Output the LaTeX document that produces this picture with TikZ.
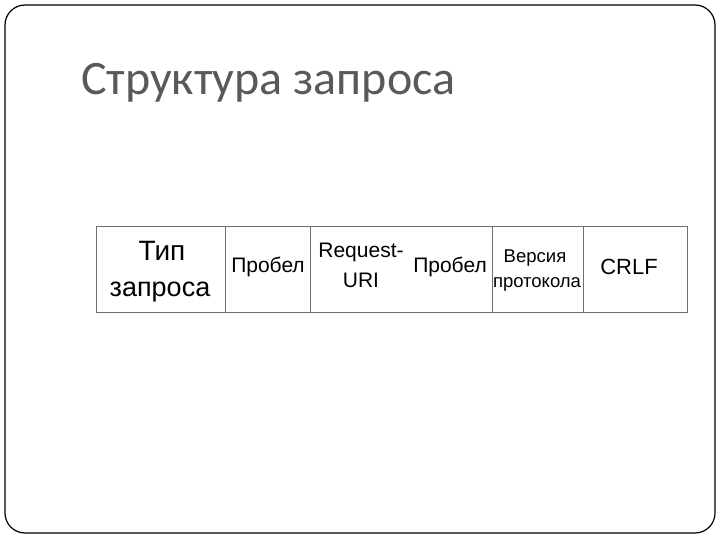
\documentclass[tikz,border=0pt]{standalone}
\usepackage{fontspec}
\setmainfont{Liberation Sans}
\newfontfamily\titlefont{Carlito}
\definecolor{titlegray}{HTML}{595959}
\definecolor{cellline}{HTML}{6E6E6E}
\tikzset{
  cellbox/.style={draw=cellline, line width=1pt, inner sep=0pt, minimum height=85pt},
  lbl/.style={inner sep=0pt, anchor=base, font=\fontsize{#1}{#1}\selectfont},
}
\begin{document}
\begin{tikzpicture}[x=1pt,y=-1pt]
\useasboundingbox (0,0) rectangle (720,540);
\draw[line width=1.2pt, rounded corners=20pt] (5,5) rectangle (715,533);
\node[anchor=base west, inner sep=0pt, text=titlegray, font=\titlefont\fontsize{48}{48}\selectfont] (title) at (81,95) {Структура запроса};
% cells
\node[cellbox, minimum width=129pt] (c1) at (160.5,269.5) {};
\node[cellbox, minimum width=85pt] (c2) at (267.5,269.5) {};
\node[cellbox, minimum width=182pt] (c3) at (401,269.5) {};
\node[cellbox, minimum width=91pt] (c4) at (537.5,269.5) {};
\node[cellbox, minimum width=104pt] (c5) at (635,269.5) {};
% labels
\node[lbl=28] (t1) at (162,260) {Тип};
\node[lbl=27] (t2) at (160,296) {запроса};
\node[lbl=21] (t3) at (268,272) {Пробел};
\node[lbl=21] (t4) at (361,258) {Request-};
\node[lbl=21] (t5) at (361,287) {URI};
\node[lbl=21] (t6) at (450,272) {Пробел};
\node[lbl=18.5] (t7) at (535,262) {Версия};
\node[lbl=18.5] (t8) at (537,287) {протокола};
\node[lbl=22] (t9) at (629,274) {CRLF};
\end{tikzpicture}
\end{document}
